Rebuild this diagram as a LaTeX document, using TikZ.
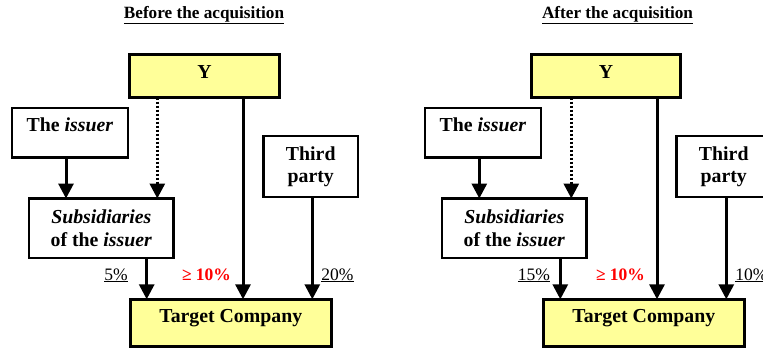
\documentclass[tikz,border=0pt]{standalone}
\usepackage{fontspec}
\setmainfont{Liberation Serif}
\usetikzlibrary{arrows.meta}
\definecolor{boxyellow}{HTML}{FFFF99}
\definecolor{pctred}{HTML}{FF0000}
\begin{document}
\begin{tikzpicture}[x=1pt,y=-1pt,
  box/.style={draw=black, line width=2.5pt, rectangle, inner sep=0pt, outer sep=0pt,
    anchor=north west, font=\fontsize{19.8}{22.6}\selectfont\bfseries, align=center},
  ybox/.style={box, fill=boxyellow},
  arr/.style={line width=3pt, -{Triangle[width=15pt,length=15pt]}},
  dotarr/.style={arr, dash pattern=on 2pt off 2pt},
  pct/.style={font=\fontsize{17.5}{20}\selectfont, inner sep=0pt, anchor=base},
  redpct/.style={pct, text=pctred, font=\fontsize{17.5}{20}\selectfont\bfseries},
  ttl/.style={font=\fontsize{17.2}{20}\selectfont\bfseries, inner sep=0pt, anchor=base}]
\useasboundingbox (0,0) rectangle (763,349);
\clip (0,0) rectangle (763,349);

% ---------- Before ----------
\node[ttl] (t1) at (204,18.3) {\underline{Before the acquisition}};
\node[ybox, minimum width=150pt, minimum height=43pt, text depth=7.9pt] (Y1) at (129.5,54.5) {Y};
\node[box, minimum width=116pt, minimum height=49.5pt, text depth=16.8pt] (I1) at (12,108) {The \textit{issuer}};
\node[box, minimum width=94.5pt, minimum height=61pt] (P1) at (263.5,136.2) {Third\\party};
\node[box, minimum width=144.7pt, minimum height=59.5pt] (S1) at (29,198.5) {\textit{Subsidiaries}\\of the \textit{issuer}};
\node[ybox, minimum width=201pt, minimum height=47pt, text depth=12.8pt] (T1) at (130.3,299.3) {Target Company};

\draw[arr] (I1.south -| 66,0) -- (S1.north -| 66,0);
\draw[dotarr] (Y1.south -| 157.3,0) -- (S1.north -| 157.3,0);
\draw[arr] (Y1.south -| 243,0) -- (T1.north -| 243,0);
\draw[arr] (P1.south -| 312.3,0) -- (T1.north -| 312.3,0);
\draw[arr] (S1.south -| 146.7,0) -- (T1.north -| 146.7,0);

\node[pct] (a1) at (116,280) {\underline{5\%}};
\node[redpct] (b1) at (206.5,280) {≥ 10\%};
\node[pct] (c1) at (337.5,280) {\underline{20\%}};

% ---------- After ----------
\node[ttl] (t2) at (617.5,18.3) {\underline{After the acquisition}};
\node[ybox, minimum width=149pt, minimum height=43pt, text depth=7.9pt] (Y2) at (531.5,54.5) {Y};
\node[box, minimum width=116pt, minimum height=49.5pt, text depth=16.8pt] (I2) at (425,108) {The \textit{issuer}};
\node[box, minimum width=94.5pt, minimum height=61pt] (P2) at (676.5,136.2) {Third\\party};
\node[box, minimum width=144.7pt, minimum height=59.5pt] (S2) at (442,198.5) {\textit{Subsidiaries}\\of the \textit{issuer}};
\node[ybox, minimum width=201pt, minimum height=47pt, text depth=12.8pt] (T2) at (543.3,299.3) {Target Company};

\draw[arr] (I2.south -| 479.3,0) -- (S2.north -| 479.3,0);
\draw[dotarr] (Y2.south -| 571.3,0) -- (S2.north -| 571.3,0);
\draw[arr] (Y2.south -| 657,0) -- (T2.north -| 657,0);
\draw[arr] (P2.south -| 726.3,0) -- (T2.north -| 726.3,0);
\draw[arr] (S2.south -| 560.3,0) -- (T2.north -| 560.3,0);

\node[pct] (a2) at (534,280) {\underline{15\%}};
\node[redpct] (b2) at (620.5,280) {≥ 10\%};
\node[pct] (c2) at (751.5,280) {\underline{10\%}};
\end{tikzpicture}
\end{document}
